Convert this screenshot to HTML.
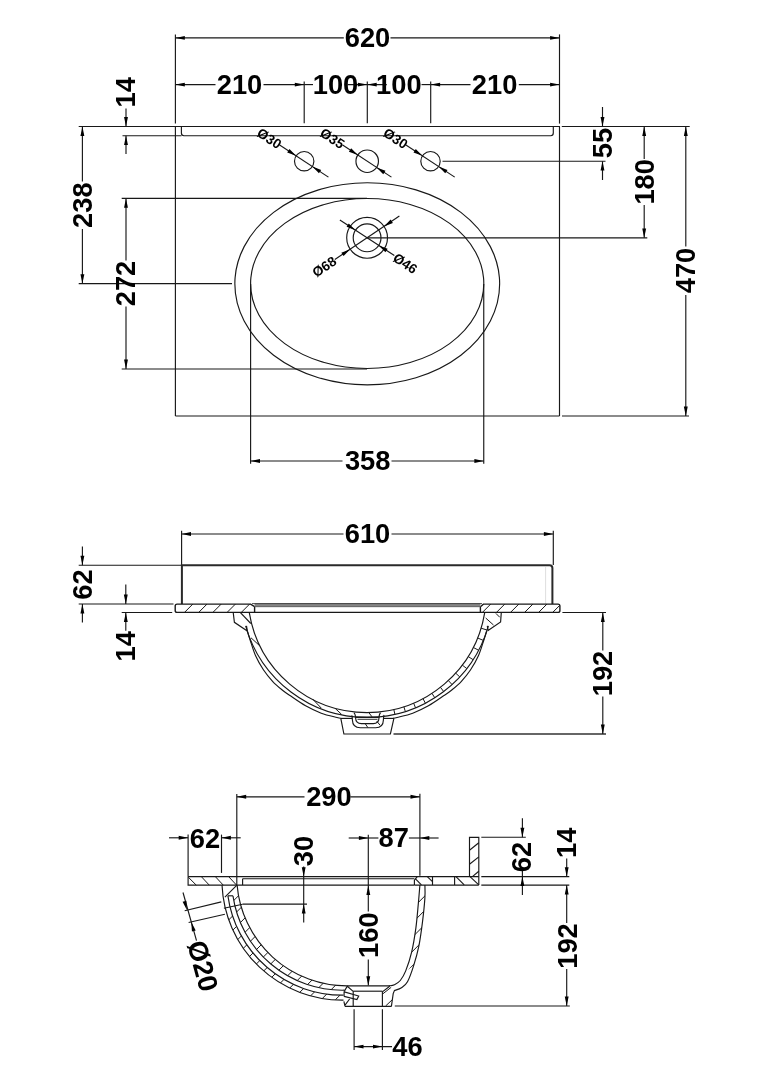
<!DOCTYPE html>
<html><head><meta charset="utf-8"><title>Basin dimensions</title>
<style>
html,body{margin:0;padding:0;background:#fff;}
body{width:768px;height:1087px;overflow:hidden;}
svg{display:block}
text{font-family:"Liberation Sans",sans-serif;font-weight:bold;fill:#000;}
</style></head><body>
<svg width="768" height="1087" viewBox="0 0 768 1087">
<rect width="768" height="1087" fill="#fff"/>
<g opacity="0.999">
<line x1="175.40" y1="34.40" x2="175.40" y2="123.60" stroke="#181818" stroke-width="1.15"/>
<line x1="175.40" y1="126.50" x2="175.40" y2="416.00" stroke="#181818" stroke-width="1.15"/>
<line x1="559.50" y1="34.40" x2="559.50" y2="123.60" stroke="#181818" stroke-width="1.15"/>
<line x1="559.50" y1="126.50" x2="559.50" y2="416.00" stroke="#181818" stroke-width="1.15"/>
<line x1="175.40" y1="37.90" x2="343.80" y2="37.90" stroke="#181818" stroke-width="1.15"/>
<line x1="390.50" y1="37.90" x2="559.50" y2="37.90" stroke="#181818" stroke-width="1.15"/>
<polygon points="175.40,37.90 184.80,35.95 184.80,39.85" fill="#000"/>
<polygon points="559.50,37.90 550.10,39.85 550.10,35.95" fill="#000"/>
<text x="367.50" y="47.09" font-size="27.3" text-anchor="middle">620</text>
<line x1="175.40" y1="84.60" x2="215.50" y2="84.60" stroke="#181818" stroke-width="1.15"/>
<line x1="263.50" y1="84.60" x2="304.20" y2="84.60" stroke="#181818" stroke-width="1.15"/>
<line x1="304.20" y1="84.60" x2="313.00" y2="84.60" stroke="#181818" stroke-width="1.15"/>
<line x1="347.70" y1="84.60" x2="386.80" y2="84.60" stroke="#181818" stroke-width="1.15"/>
<line x1="421.50" y1="84.60" x2="430.70" y2="84.60" stroke="#181818" stroke-width="1.15"/>
<line x1="430.70" y1="84.60" x2="470.50" y2="84.60" stroke="#181818" stroke-width="1.15"/>
<line x1="518.80" y1="84.60" x2="559.50" y2="84.60" stroke="#181818" stroke-width="1.15"/>
<polygon points="175.40,84.60 184.80,82.65 184.80,86.55" fill="#000"/>
<polygon points="304.20,84.60 294.80,86.55 294.80,82.65" fill="#000"/>
<polygon points="367.30,84.60 357.90,86.55 357.90,82.65" fill="#000"/>
<polygon points="367.30,84.60 376.70,82.65 376.70,86.55" fill="#000"/>
<polygon points="430.70,84.60 440.10,82.65 440.10,86.55" fill="#000"/>
<polygon points="559.50,84.60 550.10,86.55 550.10,82.65" fill="#000"/>
<line x1="304.20" y1="81.60" x2="304.20" y2="123.20" stroke="#181818" stroke-width="1.15"/>
<line x1="367.30" y1="81.60" x2="367.30" y2="123.20" stroke="#181818" stroke-width="1.15"/>
<line x1="430.70" y1="81.60" x2="430.70" y2="123.20" stroke="#181818" stroke-width="1.15"/>
<text x="239.50" y="94.09" font-size="27.3" text-anchor="middle">210</text>
<text x="335.50" y="94.09" font-size="27.3" text-anchor="middle">100</text>
<text x="398.80" y="94.09" font-size="27.3" text-anchor="middle">100</text>
<text x="494.60" y="94.09" font-size="27.3" text-anchor="middle">210</text>
<line x1="78.70" y1="126.50" x2="560.00" y2="126.50" stroke="#181818" stroke-width="1.15"/>
<line x1="561.80" y1="126.50" x2="689.70" y2="126.50" stroke="#181818" stroke-width="1.15"/>
<line x1="122.50" y1="135.70" x2="181.50" y2="135.70" stroke="#181818" stroke-width="1.15"/>
<path d="M181.4 126.5 V133.1 Q181.4 135.7 184.0 135.7 H550.7 Q553.3 135.7 553.3 133.1 V126.5" stroke="#181818" stroke-width="1.15" fill="none"/>
<line x1="175.40" y1="416.00" x2="559.50" y2="416.00" stroke="#181818" stroke-width="1.15"/>
<line x1="562.00" y1="416.00" x2="689.00" y2="416.00" stroke="#181818" stroke-width="1.15"/>
<line x1="126.00" y1="108.50" x2="126.00" y2="126.50" stroke="#181818" stroke-width="1.15"/>
<polygon points="126.00,126.50 124.05,117.10 127.95,117.10" fill="#000"/>
<line x1="126.00" y1="135.70" x2="126.00" y2="154.00" stroke="#181818" stroke-width="1.15"/>
<polygon points="126.00,135.70 127.95,145.10 124.05,145.10" fill="#000"/>
<text x="126.00" y="101.39" font-size="27.3" text-anchor="middle" transform="rotate(-90 126.00 92.30)">14</text>
<line x1="82.40" y1="126.50" x2="82.40" y2="181.50" stroke="#181818" stroke-width="1.15"/>
<line x1="82.40" y1="229.00" x2="82.40" y2="283.60" stroke="#181818" stroke-width="1.15"/>
<polygon points="82.40,126.50 84.35,135.90 80.45,135.90" fill="#000"/>
<polygon points="82.40,283.60 80.45,274.20 84.35,274.20" fill="#000"/>
<line x1="78.70" y1="283.60" x2="232.00" y2="283.60" stroke="#181818" stroke-width="1.15"/>
<text x="82.50" y="214.29" font-size="27.3" text-anchor="middle" transform="rotate(-90 82.50 205.20)">238</text>
<line x1="126.00" y1="198.40" x2="126.00" y2="260.50" stroke="#181818" stroke-width="1.15"/>
<line x1="126.00" y1="306.50" x2="126.00" y2="369.00" stroke="#181818" stroke-width="1.15"/>
<polygon points="126.00,198.40 127.95,207.80 124.05,207.80" fill="#000"/>
<polygon points="126.00,369.00 124.05,359.60 127.95,359.60" fill="#000"/>
<line x1="121.70" y1="198.40" x2="367.00" y2="198.40" stroke="#181818" stroke-width="1.15"/>
<line x1="121.70" y1="369.00" x2="367.00" y2="369.00" stroke="#181818" stroke-width="1.15"/>
<text x="126.00" y="292.59" font-size="27.3" text-anchor="middle" transform="rotate(-90 126.00 283.50)">272</text>
<line x1="602.50" y1="107.00" x2="602.50" y2="126.50" stroke="#181818" stroke-width="1.15"/>
<polygon points="602.50,126.50 600.55,117.10 604.45,117.10" fill="#000"/>
<line x1="602.50" y1="161.20" x2="602.50" y2="180.00" stroke="#181818" stroke-width="1.15"/>
<polygon points="602.50,161.20 604.45,170.60 600.55,170.60" fill="#000"/>
<line x1="442.50" y1="161.20" x2="605.50" y2="161.20" stroke="#181818" stroke-width="1.15"/>
<text x="603.00" y="152.09" font-size="27.3" text-anchor="middle" transform="rotate(-90 603.00 143.00)">55</text>
<line x1="644.20" y1="126.50" x2="644.20" y2="159.00" stroke="#181818" stroke-width="1.15"/>
<line x1="644.20" y1="205.00" x2="644.20" y2="237.80" stroke="#181818" stroke-width="1.15"/>
<polygon points="644.20,126.50 646.15,135.90 642.25,135.90" fill="#000"/>
<polygon points="644.20,237.80 642.25,228.40 646.15,228.40" fill="#000"/>
<line x1="367.10" y1="237.80" x2="647.30" y2="237.80" stroke="#181818" stroke-width="1.15"/>
<text x="644.80" y="190.89" font-size="27.3" text-anchor="middle" transform="rotate(-90 644.80 181.80)">180</text>
<line x1="685.80" y1="126.50" x2="685.80" y2="246.50" stroke="#181818" stroke-width="1.15"/>
<line x1="685.80" y1="295.00" x2="685.80" y2="416.00" stroke="#181818" stroke-width="1.15"/>
<polygon points="685.80,126.50 687.75,135.90 683.85,135.90" fill="#000"/>
<polygon points="685.80,416.00 683.85,406.60 687.75,406.60" fill="#000"/>
<text x="686.30" y="279.59" font-size="27.3" text-anchor="middle" transform="rotate(-90 686.30 270.50)">470</text>
<line x1="250.60" y1="284.00" x2="250.60" y2="463.70" stroke="#181818" stroke-width="1.15"/>
<line x1="483.75" y1="284.00" x2="483.75" y2="463.70" stroke="#181818" stroke-width="1.15"/>
<line x1="250.60" y1="461.00" x2="342.50" y2="461.00" stroke="#181818" stroke-width="1.15"/>
<line x1="391.50" y1="461.00" x2="483.75" y2="461.00" stroke="#181818" stroke-width="1.15"/>
<polygon points="250.60,461.00 260.00,459.05 260.00,462.95" fill="#000"/>
<polygon points="483.75,461.00 474.35,462.95 474.35,459.05" fill="#000"/>
<text x="367.70" y="469.79" font-size="27.3" text-anchor="middle">358</text>
<ellipse cx="367.25" cy="283.80" rx="132.40" ry="101.00" stroke="#181818" stroke-width="1.15" fill="none"/>
<ellipse cx="367.20" cy="283.50" rx="116.60" ry="85.00" stroke="#181818" stroke-width="1.15" fill="none"/>
<circle cx="367.10" cy="237.80" r="20.40" stroke="#181818" stroke-width="1.15" fill="none"/>
<circle cx="367.10" cy="237.80" r="13.90" stroke="#181818" stroke-width="1.15" fill="none"/>
<line x1="334.81" y1="259.50" x2="399.39" y2="216.10" stroke="#181818" stroke-width="1.15"/>
<polygon points="350.17,249.18 343.59,256.07 341.31,252.66" fill="#000"/>
<polygon points="384.03,226.42 390.61,219.53 392.89,222.94" fill="#000"/>
<line x1="339.87" y1="220.05" x2="394.33" y2="255.55" stroke="#181818" stroke-width="1.15"/>
<polygon points="355.46,230.21 346.55,226.85 348.78,223.41" fill="#000"/>
<polygon points="378.74,245.39 387.65,248.75 385.42,252.19" fill="#000"/>
<text x="324.40" y="271.53" font-size="13.6" text-anchor="middle" transform="rotate(-33.5 324.40 267.00)">Ø68</text>
<text x="405.20" y="268.03" font-size="13.6" text-anchor="middle" transform="rotate(33.5 405.20 263.50)">Ø46</text>
<circle cx="304.20" cy="161.20" r="9.70" stroke="#181818" stroke-width="1.15" fill="none"/>
<line x1="279.63" y1="145.06" x2="328.44" y2="177.12" stroke="#181818" stroke-width="1.15"/>
<polygon points="296.09,155.87 287.19,152.48 289.45,149.06" fill="#000"/>
<polygon points="312.31,166.53 321.21,169.92 318.95,173.34" fill="#000"/>
<text x="269.20" y="143.13" font-size="13.6" text-anchor="middle" transform="rotate(33.3 269.20 138.60)">Ø30</text>
<circle cx="367.20" cy="161.20" r="11.25" stroke="#181818" stroke-width="1.15" fill="none"/>
<line x1="342.63" y1="145.06" x2="391.44" y2="177.12" stroke="#181818" stroke-width="1.15"/>
<polygon points="357.80,155.02 348.90,151.63 351.15,148.20" fill="#000"/>
<polygon points="376.60,167.38 385.50,170.77 383.25,174.20" fill="#000"/>
<text x="332.20" y="143.13" font-size="13.6" text-anchor="middle" transform="rotate(33.3 332.20 138.60)">Ø35</text>
<circle cx="430.50" cy="161.20" r="9.70" stroke="#181818" stroke-width="1.15" fill="none"/>
<line x1="405.93" y1="145.06" x2="454.74" y2="177.12" stroke="#181818" stroke-width="1.15"/>
<polygon points="422.39,155.87 413.49,152.48 415.75,149.06" fill="#000"/>
<polygon points="438.61,166.53 447.51,169.92 445.25,173.34" fill="#000"/>
<text x="395.50" y="143.13" font-size="13.6" text-anchor="middle" transform="rotate(33.3 395.50 138.60)">Ø30</text>
<line x1="181.60" y1="530.70" x2="181.60" y2="565.00" stroke="#181818" stroke-width="1.15"/>
<line x1="553.30" y1="530.70" x2="553.30" y2="565.00" stroke="#181818" stroke-width="1.15"/>
<line x1="181.60" y1="534.00" x2="343.50" y2="534.00" stroke="#181818" stroke-width="1.15"/>
<line x1="391.50" y1="534.00" x2="553.30" y2="534.00" stroke="#181818" stroke-width="1.15"/>
<polygon points="181.60,534.00 191.00,532.05 191.00,535.95" fill="#000"/>
<polygon points="553.30,534.00 543.90,535.95 543.90,532.05" fill="#000"/>
<text x="367.50" y="543.09" font-size="27.3" text-anchor="middle">610</text>
<path d="M181.9 604.1 V565.3 H549.6 Q552.4 565.3 552.4 568.1 V604.1" stroke="#2a2a2a" stroke-width="2.0" fill="none"/>
<line x1="545.60" y1="567.00" x2="545.60" y2="604.10" stroke="#d0d0d0" stroke-width="0.7"/>
<line x1="78.70" y1="565.20" x2="181.20" y2="565.20" stroke="#181818" stroke-width="1.15"/>
<line x1="78.70" y1="604.00" x2="173.50" y2="604.00" stroke="#181818" stroke-width="1.15"/>
<line x1="82.40" y1="546.50" x2="82.40" y2="565.20" stroke="#181818" stroke-width="1.15"/>
<polygon points="82.40,565.20 80.45,555.80 84.35,555.80" fill="#000"/>
<line x1="82.40" y1="604.00" x2="82.40" y2="622.40" stroke="#181818" stroke-width="1.15"/>
<polygon points="82.40,604.00 84.35,613.40 80.45,613.40" fill="#000"/>
<text x="82.50" y="593.69" font-size="27.3" text-anchor="middle" transform="rotate(-90 82.50 584.60)">62</text>
<line x1="121.70" y1="612.50" x2="172.20" y2="612.50" stroke="#181818" stroke-width="1.15"/>
<line x1="125.80" y1="584.60" x2="125.80" y2="604.00" stroke="#181818" stroke-width="1.15"/>
<polygon points="125.80,604.00 123.85,594.60 127.75,594.60" fill="#000"/>
<line x1="125.80" y1="612.50" x2="125.80" y2="630.80" stroke="#181818" stroke-width="1.15"/>
<polygon points="125.80,612.50 127.75,621.90 123.85,621.90" fill="#000"/>
<text x="126.00" y="655.39" font-size="27.3" text-anchor="middle" transform="rotate(-90 126.00 646.30)">14</text>
<path d="M177.1 604.1 H250.6 L254.6 606.7 V612.4 H177.1 Q175.2 612.4 175.2 610.5 V606.0 Q175.2 604.1 177.1 604.1 Z" stroke="#181818" stroke-width="1.4" fill="none"/>
<line x1="184.50" y1="612.40" x2="192.80" y2="604.10" stroke="#181818" stroke-width="1.0"/>
<line x1="198.70" y1="612.40" x2="207.00" y2="604.10" stroke="#181818" stroke-width="1.0"/>
<line x1="212.90" y1="612.40" x2="221.20" y2="604.10" stroke="#181818" stroke-width="1.0"/>
<line x1="227.10" y1="612.40" x2="235.40" y2="604.10" stroke="#181818" stroke-width="1.0"/>
<line x1="241.30" y1="612.40" x2="249.60" y2="604.10" stroke="#181818" stroke-width="1.0"/>
<path d="M483.4 604.1 H558.0 Q559.9 604.1 559.9 606.0 V610.5 Q559.9 612.4 558.0 612.4 H480.4 V606.7 Z" stroke="#181818" stroke-width="1.4" fill="none"/>
<line x1="482.40" y1="612.40" x2="490.70" y2="604.10" stroke="#181818" stroke-width="1.0"/>
<line x1="496.46" y1="612.40" x2="504.76" y2="604.10" stroke="#181818" stroke-width="1.0"/>
<line x1="510.52" y1="612.40" x2="518.82" y2="604.10" stroke="#181818" stroke-width="1.0"/>
<line x1="524.58" y1="612.40" x2="532.88" y2="604.10" stroke="#181818" stroke-width="1.0"/>
<line x1="538.64" y1="612.40" x2="546.94" y2="604.10" stroke="#181818" stroke-width="1.0"/>
<line x1="552.70" y1="612.40" x2="559.50" y2="605.60" stroke="#181818" stroke-width="1.0"/>
<rect x="254.6" y="603.2" width="225.8" height="3.7" fill="#858585"/>
<line x1="252.00" y1="603.60" x2="482.00" y2="603.60" stroke="#3a3a3a" stroke-width="0.9"/>
<line x1="254.60" y1="606.70" x2="480.40" y2="606.70" stroke="#555" stroke-width="0.8"/>
<line x1="254.60" y1="612.40" x2="480.40" y2="612.40" stroke="#181818" stroke-width="1.15"/>
<path d="M249.24 612.4 A119.3 119.3 0 0 0 484.76 612.4" stroke="#181818" stroke-width="1.15" fill="none"/>
<path d="M245.61 625.9 A126.22 126.22 0 0 0 488.39 625.9" stroke="#181818" stroke-width="1.15" fill="none"/>
<path d="M247.30 631.00 C247.78 632.53 248.82 636.07 250.20 640.20 C251.58 644.33 253.40 650.87 255.60 655.80 C257.80 660.73 260.53 665.50 263.40 669.80 C266.27 674.10 269.67 678.23 272.80 681.60 C275.93 684.97 279.33 687.67 282.20 690.00 C285.07 692.33 286.10 692.97 290.00 695.60 C293.90 698.23 300.39 702.87 305.60 705.80 C310.81 708.73 316.03 711.25 321.25 713.20 C326.47 715.15 333.61 716.65 336.90 717.50 C340.19 718.35 340.32 718.17 341.00 718.30" stroke="#181818" stroke-width="1.15" fill="none"/>
<path d="M393.00 718.30 C393.68 718.17 393.81 718.35 397.10 717.50 C400.39 716.65 407.53 715.15 412.75 713.20 C417.97 711.25 423.19 708.73 428.40 705.80 C433.61 702.87 440.10 698.23 444.00 695.60 C447.90 692.97 448.93 692.33 451.80 690.00 C454.67 687.67 458.07 684.97 461.20 681.60 C464.33 678.23 467.73 674.10 470.60 669.80 C473.47 665.50 476.20 660.73 478.40 655.80 C480.60 650.87 482.42 644.33 483.80 640.20 C485.18 636.07 486.22 632.53 486.70 631.00" stroke="#181818" stroke-width="1.15" fill="none"/>
<line x1="340.80" y1="718.40" x2="352.30" y2="718.40" stroke="#181818" stroke-width="1.15"/>
<line x1="383.30" y1="718.40" x2="393.90" y2="718.40" stroke="#181818" stroke-width="1.15"/>
<path d="M233.2 612.4 L234.4 622.3 L247.3 631.0 L246.5 625.9" stroke="#181818" stroke-width="1.15" fill="none"/>
<line x1="240.20" y1="612.40" x2="250.80" y2="623.50" stroke="#181818" stroke-width="1.15"/>
<line x1="251.00" y1="637.80" x2="259.50" y2="645.60" stroke="#181818" stroke-width="1.0"/>
<path d="M501.3 612.4 L500.6 622.0 L488.1 630.5 L487.3 625.9" stroke="#181818" stroke-width="1.15" fill="none"/>
<line x1="485.70" y1="618.00" x2="493.50" y2="625.00" stroke="#181818" stroke-width="1.0"/>
<line x1="495.90" y1="613.40" x2="499.80" y2="617.30" stroke="#181818" stroke-width="1.0"/>
<line x1="393.84" y1="709.54" x2="394.91" y2="714.43" stroke="#181818" stroke-width="1.0"/>
<line x1="403.87" y1="706.76" x2="405.37" y2="711.58" stroke="#181818" stroke-width="1.0"/>
<line x1="413.61" y1="703.12" x2="415.56" y2="707.84" stroke="#181818" stroke-width="1.0"/>
<line x1="423.01" y1="698.64" x2="425.39" y2="703.23" stroke="#181818" stroke-width="1.0"/>
<line x1="431.98" y1="693.35" x2="434.80" y2="697.80" stroke="#181818" stroke-width="1.0"/>
<line x1="440.45" y1="687.31" x2="443.70" y2="691.57" stroke="#181818" stroke-width="1.0"/>
<line x1="448.36" y1="680.55" x2="452.05" y2="684.59" stroke="#181818" stroke-width="1.0"/>
<line x1="455.66" y1="673.13" x2="459.77" y2="676.91" stroke="#181818" stroke-width="1.0"/>
<line x1="462.28" y1="665.10" x2="466.81" y2="668.59" stroke="#181818" stroke-width="1.0"/>
<line x1="468.17" y1="656.52" x2="473.11" y2="659.68" stroke="#181818" stroke-width="1.0"/>
<line x1="473.30" y1="647.46" x2="478.63" y2="650.25" stroke="#181818" stroke-width="1.0"/>
<line x1="477.61" y1="637.99" x2="483.31" y2="640.36" stroke="#181818" stroke-width="1.0"/>
<line x1="481.09" y1="628.18" x2="487.12" y2="630.09" stroke="#181818" stroke-width="1.0"/>
<line x1="312.70" y1="699.10" x2="321.25" y2="708.10" stroke="#181818" stroke-width="1.0"/>
<line x1="335.30" y1="708.50" x2="341.60" y2="714.40" stroke="#181818" stroke-width="1.0"/>
<path d="M340.8 718.4 L343.9 734.0 H390.4 L393.9 718.4" stroke="#181818" stroke-width="1.15" fill="none"/>
<path d="M351.7 715.4 Q352.3 716.5 352.4 720.0 Q352.6 727.7 360.3 727.7 H375.7 Q383.2 727.7 383.4 720.0 Q383.5 716.5 384.0 715.0" stroke="#181818" stroke-width="1.15" fill="none"/>
<path d="M353.9 712.6 Q355.4 713.8 355.6 718.0 Q355.8 723.6 361.4 723.6 H373.2 Q378.8 723.6 379.0 718.0 Q379.2 713.8 380.6 712.8" stroke="#181818" stroke-width="1.15" fill="none"/>
<line x1="356.00" y1="717.20" x2="378.80" y2="717.20" stroke="#181818" stroke-width="1.5"/>
<line x1="357.50" y1="719.30" x2="377.50" y2="719.30" stroke="#181818" stroke-width="0.9"/>
<line x1="368.50" y1="712.20" x2="372.00" y2="716.80" stroke="#181818" stroke-width="1.0"/>
<line x1="365.00" y1="723.40" x2="367.90" y2="727.60" stroke="#181818" stroke-width="1.0"/>
<line x1="376.70" y1="721.00" x2="380.00" y2="725.20" stroke="#181818" stroke-width="1.0"/>
<line x1="562.40" y1="612.50" x2="606.00" y2="612.50" stroke="#181818" stroke-width="1.15"/>
<line x1="393.50" y1="734.00" x2="606.00" y2="734.00" stroke="#333" stroke-width="1.3"/>
<line x1="602.80" y1="612.50" x2="602.80" y2="650.50" stroke="#181818" stroke-width="1.15"/>
<line x1="602.80" y1="696.50" x2="602.80" y2="734.00" stroke="#181818" stroke-width="1.15"/>
<polygon points="602.80,612.50 604.75,621.90 600.85,621.90" fill="#000"/>
<polygon points="602.80,734.00 600.85,724.60 604.75,724.60" fill="#000"/>
<text x="602.70" y="682.59" font-size="27.3" text-anchor="middle" transform="rotate(-90 602.70 673.50)">192</text>
<line x1="236.80" y1="794.00" x2="236.80" y2="885.10" stroke="#181818" stroke-width="1.15"/>
<line x1="419.90" y1="793.70" x2="419.90" y2="875.80" stroke="#181818" stroke-width="1.15"/>
<line x1="236.80" y1="796.80" x2="304.50" y2="796.80" stroke="#181818" stroke-width="1.15"/>
<line x1="350.50" y1="796.80" x2="419.90" y2="796.80" stroke="#181818" stroke-width="1.15"/>
<polygon points="236.80,796.80 246.20,794.85 246.20,798.75" fill="#000"/>
<polygon points="419.90,796.80 410.50,798.75 410.50,794.85" fill="#000"/>
<text x="328.90" y="806.39" font-size="27.3" text-anchor="middle">290</text>
<line x1="188.10" y1="834.60" x2="188.10" y2="876.60" stroke="#181818" stroke-width="1.15"/>
<line x1="221.50" y1="834.60" x2="221.50" y2="872.90" stroke="#181818" stroke-width="1.15"/>
<line x1="169.00" y1="837.80" x2="188.10" y2="837.80" stroke="#181818" stroke-width="1.15"/>
<polygon points="188.10,837.80 178.70,839.75 178.70,835.85" fill="#000"/>
<line x1="221.50" y1="837.80" x2="240.70" y2="837.80" stroke="#181818" stroke-width="1.15"/>
<polygon points="221.50,837.80 230.90,835.85 230.90,839.75" fill="#000"/>
<text x="205.00" y="847.59" font-size="27.3" text-anchor="middle">62</text>
<line x1="348.70" y1="838.00" x2="378.40" y2="838.00" stroke="#181818" stroke-width="1.15"/>
<line x1="408.90" y1="838.00" x2="438.60" y2="838.00" stroke="#181818" stroke-width="1.15"/>
<polygon points="368.30,838.00 358.90,839.95 358.90,836.05" fill="#000"/>
<polygon points="419.90,838.00 429.30,836.05 429.30,839.95" fill="#000"/>
<text x="393.80" y="847.39" font-size="27.3" text-anchor="middle">87</text>
<line x1="368.30" y1="834.70" x2="368.30" y2="911.50" stroke="#181818" stroke-width="1.15"/>
<polygon points="368.30,885.60 370.25,895.00 366.35,895.00" fill="#000"/>
<line x1="368.30" y1="959.50" x2="368.30" y2="985.60" stroke="#181818" stroke-width="1.15"/>
<polygon points="368.30,985.60 366.35,976.20 370.25,976.20" fill="#000"/>
<text x="368.50" y="944.29" font-size="27.3" text-anchor="middle" transform="rotate(-90 368.50 935.20)">160</text>
<line x1="303.70" y1="866.50" x2="303.70" y2="922.50" stroke="#181818" stroke-width="1.15"/>
<polygon points="303.70,876.60 301.75,867.20 305.65,867.20" fill="#000"/>
<polygon points="303.70,904.10 305.65,913.50 301.75,913.50" fill="#000"/>
<line x1="242.60" y1="904.10" x2="307.00" y2="904.10" stroke="#181818" stroke-width="1.15"/>
<text x="303.60" y="860.09" font-size="27.3" text-anchor="middle" transform="rotate(-90 303.60 851.00)">30</text>
<path d="M188.1 876.6 H236.8 M188.1 876.6 V885.1 H236.8" stroke="#181818" stroke-width="1.15" fill="none"/>
<line x1="188.30" y1="877.20" x2="196.30" y2="885.16" stroke="#181818" stroke-width="1"/>
<line x1="201.30" y1="876.60" x2="209.30" y2="885.16" stroke="#181818" stroke-width="1"/>
<line x1="215.30" y1="876.60" x2="223.30" y2="885.16" stroke="#181818" stroke-width="1"/>
<line x1="228.60" y1="876.60" x2="236.60" y2="885.16" stroke="#181818" stroke-width="1"/>
<line x1="236.80" y1="876.60" x2="417.30" y2="876.60" stroke="#181818" stroke-width="1.15"/>
<line x1="242.60" y1="878.70" x2="414.40" y2="878.70" stroke="#181818" stroke-width="1.15"/>
<line x1="236.80" y1="885.10" x2="414.40" y2="885.10" stroke="#181818" stroke-width="1.15"/>
<line x1="242.60" y1="878.70" x2="242.60" y2="885.10" stroke="#181818" stroke-width="1.15"/>
<path d="M414.4 885.1 V880.1 L417.3 876.6 H478.8 M414.4 885.1 H478.8" stroke="#181818" stroke-width="1.15" fill="none"/>
<line x1="432.50" y1="876.60" x2="432.50" y2="885.10" stroke="#181818" stroke-width="1.15"/>
<line x1="454.60" y1="876.60" x2="454.60" y2="885.10" stroke="#181818" stroke-width="1.15"/>
<line x1="415.50" y1="878.90" x2="421.40" y2="884.80" stroke="#181818" stroke-width="1.15"/>
<line x1="427.30" y1="876.60" x2="432.20" y2="881.30" stroke="#181818" stroke-width="1.15"/>
<line x1="456.00" y1="876.60" x2="464.20" y2="884.80" stroke="#181818" stroke-width="1.15"/>
<path d="M469.5 876.6 V837.3 H478.8 V885.1" stroke="#181818" stroke-width="1.15" fill="none"/>
<line x1="469.50" y1="850.20" x2="478.80" y2="842.80" stroke="#181818" stroke-width="1.15"/>
<line x1="469.50" y1="864.30" x2="478.80" y2="856.90" stroke="#181818" stroke-width="1.15"/>
<line x1="472.40" y1="876.60" x2="478.80" y2="871.30" stroke="#181818" stroke-width="1.15"/>
<line x1="470.00" y1="876.60" x2="478.80" y2="884.80" stroke="#181818" stroke-width="1.15"/>
<line x1="481.30" y1="837.20" x2="525.80" y2="837.20" stroke="#181818" stroke-width="1.15"/>
<line x1="481.30" y1="876.60" x2="569.30" y2="876.60" stroke="#181818" stroke-width="1.15"/>
<line x1="481.30" y1="885.10" x2="569.30" y2="885.10" stroke="#181818" stroke-width="1.15"/>
<line x1="522.40" y1="818.20" x2="522.40" y2="837.20" stroke="#181818" stroke-width="1.15"/>
<polygon points="522.40,837.20 520.45,827.80 524.35,827.80" fill="#000"/>
<line x1="522.40" y1="870.50" x2="522.40" y2="895.00" stroke="#181818" stroke-width="1.15"/>
<polygon points="522.40,876.60 524.35,886.00 520.45,886.00" fill="#000"/>
<text x="521.50" y="866.09" font-size="27.3" text-anchor="middle" transform="rotate(-90 521.50 857.00)">62</text>
<line x1="566.70" y1="858.60" x2="566.70" y2="876.60" stroke="#181818" stroke-width="1.15"/>
<polygon points="566.70,876.60 564.75,867.20 568.65,867.20" fill="#000"/>
<line x1="566.70" y1="885.10" x2="566.70" y2="923.00" stroke="#181818" stroke-width="1.15"/>
<polygon points="566.70,885.10 568.65,894.50 564.75,894.50" fill="#000"/>
<line x1="566.70" y1="969.00" x2="566.70" y2="1006.00" stroke="#181818" stroke-width="1.15"/>
<polygon points="566.70,1006.00 564.75,996.60 568.65,996.60" fill="#000"/>
<text x="567.20" y="851.79" font-size="27.3" text-anchor="middle" transform="rotate(-90 567.20 842.70)">14</text>
<text x="567.50" y="955.09" font-size="27.3" text-anchor="middle" transform="rotate(-90 567.50 946.00)">192</text>
<line x1="394.80" y1="1006.00" x2="569.80" y2="1006.00" stroke="#181818" stroke-width="1.15"/>
<line x1="354.10" y1="1009.20" x2="354.10" y2="1049.90" stroke="#181818" stroke-width="1.15"/>
<line x1="382.40" y1="1009.20" x2="382.40" y2="1049.90" stroke="#181818" stroke-width="1.15"/>
<line x1="354.10" y1="1046.60" x2="392.00" y2="1046.60" stroke="#181818" stroke-width="1.15"/>
<polygon points="354.10,1046.60 363.50,1044.65 363.50,1048.55" fill="#000"/>
<polygon points="382.40,1046.60 373.00,1048.55 373.00,1044.65" fill="#000"/>
<text x="407.50" y="1055.69" font-size="27.3" text-anchor="middle">46</text>
<path d="M222.02 885.10 A120.3 120.3 0 0 0 343.50 1000.09" stroke="#181818" stroke-width="1.15" fill="none"/>
<path d="M227.91 895.80 A115.4 115.4 0 0 0 343.50 995.19" stroke="#181818" stroke-width="1.15" fill="none"/>
<path d="M232.97 895.80 A110.4 110.4 0 0 0 344.40 990.18" stroke="#181818" stroke-width="1.15" fill="none"/>
<line x1="227.91" y1="895.80" x2="232.97" y2="895.80" stroke="#181818" stroke-width="1.15"/>
<path d="M237.10 885.10 A110.2 110.2 0 0 0 347.50 985.90" stroke="#181818" stroke-width="1.15" fill="none"/>
<line x1="236.90" y1="885.10" x2="224.90" y2="897.20" stroke="#181818" stroke-width="1.15"/>
<clipPath id="w12"><path d="M226.29 912.00 A120.3 120.3 0 0 0 343.50 1000.09 L343.50 995.19 A115.4 115.4 0 0 1 231.38 912.00 Z"/></clipPath>
<g clip-path="url(#w12)">
<line x1="215.00" y1="933.60" x2="350.00" y2="798.60" stroke="#181818" stroke-width="1.0"/>
<line x1="215.00" y1="947.95" x2="350.00" y2="812.95" stroke="#181818" stroke-width="1.0"/>
<line x1="215.00" y1="962.30" x2="350.00" y2="827.30" stroke="#181818" stroke-width="1.0"/>
<line x1="215.00" y1="976.65" x2="350.00" y2="841.65" stroke="#181818" stroke-width="1.0"/>
<line x1="215.00" y1="991.00" x2="350.00" y2="856.00" stroke="#181818" stroke-width="1.0"/>
<line x1="215.00" y1="1005.35" x2="350.00" y2="870.35" stroke="#181818" stroke-width="1.0"/>
<line x1="215.00" y1="1019.70" x2="350.00" y2="884.70" stroke="#181818" stroke-width="1.0"/>
<line x1="215.00" y1="1034.05" x2="350.00" y2="899.05" stroke="#181818" stroke-width="1.0"/>
<line x1="215.00" y1="1048.40" x2="350.00" y2="913.40" stroke="#181818" stroke-width="1.0"/>
<line x1="215.00" y1="1062.75" x2="350.00" y2="927.75" stroke="#181818" stroke-width="1.0"/>
<line x1="215.00" y1="1077.10" x2="350.00" y2="942.10" stroke="#181818" stroke-width="1.0"/>
<line x1="215.00" y1="1091.45" x2="350.00" y2="956.45" stroke="#181818" stroke-width="1.0"/>
<line x1="215.00" y1="1105.80" x2="350.00" y2="970.80" stroke="#181818" stroke-width="1.0"/>
<line x1="215.00" y1="1120.15" x2="350.00" y2="985.15" stroke="#181818" stroke-width="1.0"/>
</g>
<clipPath id="w34"><path d="M232.97 895.80 A110.4 110.4 0 0 0 344.40 990.18 L347.50 985.90 A110.2 110.2 0 0 1 237.10 885.10 Z"/></clipPath>
<g clip-path="url(#w34)">
<line x1="215.00" y1="919.25" x2="352.00" y2="782.25" stroke="#181818" stroke-width="1.0"/>
<line x1="215.00" y1="933.60" x2="352.00" y2="796.60" stroke="#181818" stroke-width="1.0"/>
<line x1="215.00" y1="947.95" x2="352.00" y2="810.95" stroke="#181818" stroke-width="1.0"/>
<line x1="215.00" y1="962.30" x2="352.00" y2="825.30" stroke="#181818" stroke-width="1.0"/>
<line x1="215.00" y1="976.65" x2="352.00" y2="839.65" stroke="#181818" stroke-width="1.0"/>
<line x1="215.00" y1="991.00" x2="352.00" y2="854.00" stroke="#181818" stroke-width="1.0"/>
<line x1="215.00" y1="1005.35" x2="352.00" y2="868.35" stroke="#181818" stroke-width="1.0"/>
<line x1="215.00" y1="1019.70" x2="352.00" y2="882.70" stroke="#181818" stroke-width="1.0"/>
<line x1="215.00" y1="1034.05" x2="352.00" y2="897.05" stroke="#181818" stroke-width="1.0"/>
<line x1="215.00" y1="1048.40" x2="352.00" y2="911.40" stroke="#181818" stroke-width="1.0"/>
<line x1="215.00" y1="1062.75" x2="352.00" y2="925.75" stroke="#181818" stroke-width="1.0"/>
<line x1="215.00" y1="1077.10" x2="352.00" y2="940.10" stroke="#181818" stroke-width="1.0"/>
<line x1="215.00" y1="1091.45" x2="352.00" y2="954.45" stroke="#181818" stroke-width="1.0"/>
<line x1="215.00" y1="1105.80" x2="352.00" y2="968.80" stroke="#181818" stroke-width="1.0"/>
<line x1="215.00" y1="1120.15" x2="352.00" y2="983.15" stroke="#181818" stroke-width="1.0"/>
</g>
<line x1="184.70" y1="910.80" x2="221.30" y2="901.90" stroke="#181818" stroke-width="1.15"/>
<line x1="188.60" y1="922.50" x2="224.90" y2="914.30" stroke="#181818" stroke-width="1.15"/>
<line x1="223.90" y1="908.30" x2="242.60" y2="904.20" stroke="#181818" stroke-width="1.15"/>
<line x1="183.00" y1="892.50" x2="196.50" y2="940.70" stroke="#181818" stroke-width="1.15"/>
<polygon points="187.00,910.30 182.59,901.77 186.35,900.72" fill="#000"/>
<polygon points="191.30,921.90 195.71,930.43 191.95,931.48" fill="#000"/>
<text x="202.50" y="975.09" font-size="27.3" text-anchor="middle" transform="rotate(75 202.50 966.00)">Ø20</text>
<line x1="347.30" y1="985.80" x2="389.70" y2="985.80" stroke="#181818" stroke-width="1.15"/>
<line x1="353.20" y1="991.20" x2="382.40" y2="991.20" stroke="#181818" stroke-width="1.15"/>
<line x1="345.00" y1="1006.30" x2="391.50" y2="1006.30" stroke="#181818" stroke-width="1.15"/>
<path d="M344.1 991.6 L347.3 986.2 L353.2 991.4 V1006.3" stroke="#181818" stroke-width="1.15" fill="none"/>
<path d="M344.1 991.4 V996.6 M344.3 991.9 L358.7 996.0 L356.9 999.6 L344.1 996.4" stroke="#181818" stroke-width="1.15" fill="none"/>
<path d="M343.9 1001.4 L345.0 1006.3 M349.6 999.0 L345.0 1005.1" stroke="#181818" stroke-width="1.15" fill="none"/>
<path d="M382.4 991.2 V1006.3 M382.4 991.9 L389.7 986.3" stroke="#181818" stroke-width="1.15" fill="none"/>
<line x1="383.00" y1="993.70" x2="391.20" y2="987.30" stroke="#181818" stroke-width="1.0"/>
<line x1="385.60" y1="1006.00" x2="392.40" y2="999.60" stroke="#181818" stroke-width="1.0"/>
<path d="M419.90 885.10 C419.63 888.23 418.97 896.78 418.30 903.90 C417.63 911.02 417.00 919.82 415.90 927.80 C414.80 935.78 413.40 944.62 411.70 951.80 C410.00 958.98 407.60 966.12 405.70 970.90 C403.80 975.68 402.18 978.20 400.30 980.50 C398.42 982.80 396.28 983.80 394.40 984.70 C392.52 985.60 389.90 985.70 389.00 985.90" stroke="#181818" stroke-width="1.15" fill="none"/>
<path d="M424.90 885.10 C424.90 887.23 425.30 891.77 424.90 897.90 C424.50 904.03 423.50 913.92 422.50 921.90 C421.50 929.88 420.40 938.43 418.90 945.80 C417.40 953.17 415.40 960.12 413.50 966.10 C411.60 972.08 409.50 978.10 407.50 981.70 C405.50 985.30 403.68 986.22 401.50 987.70 C399.32 989.18 395.58 990.12 394.40 990.60 L393.2 993.6 L391.4 1006.3" stroke="#181818" stroke-width="1.15" fill="none"/>
<clipPath id="wr"><path d="M419.9 885.1 C419.63 888.23 418.97 896.78 418.30 903.90 C417.63 911.02 417.00 919.82 415.90 927.80 C414.80 935.78 413.40 944.62 411.70 951.80 C410.00 958.98 406.70 967.72 405.70 970.90 L413.5 966.1 C414.40 962.72 417.40 953.17 418.90 945.80 C420.40 938.43 421.50 929.88 422.50 921.90 C423.50 913.92 424.50 904.03 424.90 897.90 C425.30 891.77 424.90 887.23 424.90 885.10 Z"/></clipPath>
<g clip-path="url(#wr)">
<line x1="400.00" y1="920.80" x2="430.00" y2="890.80" stroke="#181818" stroke-width="1.0"/>
<line x1="400.00" y1="935.15" x2="430.00" y2="905.15" stroke="#181818" stroke-width="1.0"/>
<line x1="400.00" y1="949.50" x2="430.00" y2="919.50" stroke="#181818" stroke-width="1.0"/>
<line x1="400.00" y1="963.85" x2="430.00" y2="933.85" stroke="#181818" stroke-width="1.0"/>
<line x1="400.00" y1="978.20" x2="430.00" y2="948.20" stroke="#181818" stroke-width="1.0"/>
</g>
</g>
</svg>
</body></html>
